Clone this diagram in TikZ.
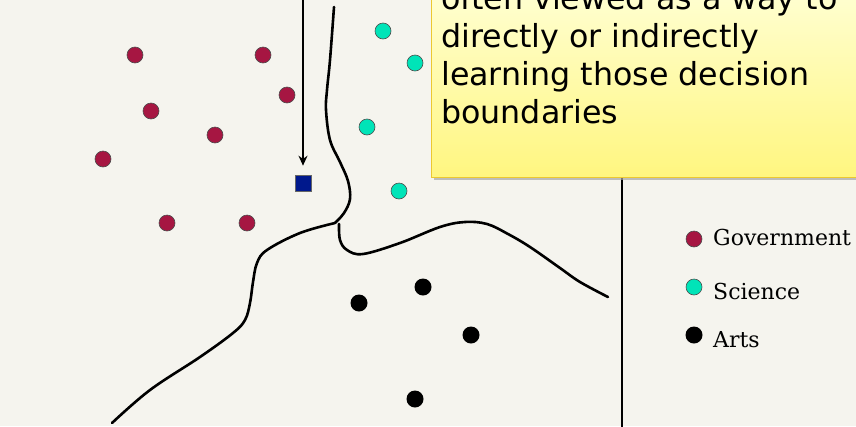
\documentclass[tikz,border=0pt]{standalone}
\usepackage{fontspec}
\setmainfont{DejaVu Serif}
\newfontfamily\notefont{DejaVu Sans}
\usetikzlibrary{arrows.meta}

\definecolor{bgpaper}{RGB}{245,244,238}
\definecolor{govred}{RGB}{166,22,66}
\definecolor{scicyan}{RGB}{0,228,184}
\definecolor{querynavy}{RGB}{0,24,140}
\definecolor{notetop}{RGB}{255,255,214}
\definecolor{notebot}{RGB}{255,246,128}
\definecolor{noteedge}{RGB}{236,200,48}

\tikzset{
  gov/.style={circle, draw=black!70, line width=0.6pt, fill=govred, minimum size=16pt, inner sep=0pt},
  sci/.style={gov, fill=scicyan},
  arts/.style={circle, fill=black, minimum size=17pt, inner sep=0pt},
  boundary/.style={line width=2.6pt, line cap=round, line join=round},
  legendtext/.style={anchor=base west, font=\fontsize{22}{26}\selectfont, inner sep=0pt},
  notetext/.style={anchor=base west, font=\notefont\fontsize{31.7}{38}\selectfont, inner sep=0pt},
}

\begin{document}
\begin{tikzpicture}[x=1pt,y=-1pt,>=stealth]
	% Khung hình
	\useasboundingbox (0,0) rectangle (856,426);
	\clip (0,0) rectangle (856,426);
	\fill[bgpaper] (0,0) rectangle (856,426);
	
	% Đường phân cách dọc
	\draw[line width=2pt] (622,150) -- (622,430);
	
	% Điểm Government
	\foreach \px/\py [count=\i] in {135/55, 263/55, 287/95, 151/111, 215/135, 103/159, 167/223, 247/223}
		\node[gov] (g\i) at (\px,\py) {};
	
	% Điểm Science
	\foreach \px/\py [count=\i] in {383/31, 415/63, 367/127, 399/191}
		\node[sci] (s\i) at (\px,\py) {};
	
	% Điểm Arts
	\foreach \px/\py [count=\i] in {359/303, 423/287, 471/335, 415/399}
		\node[arts] (a\i) at (\px,\py) {};
	
	% Ranh giới quyết định
	\draw[boundary] plot[smooth, tension=0.6] coordinates {(334,7) (330,60) (327,90) (326,110) (330,140) (340,162) (348,181) (350,199) (344,213) (335,223)};
	\draw[boundary] plot[smooth, tension=0.6] coordinates {(335,223) (300,233) (267,250) (257,263) (253,282) (250,303) (245,320) (233,333) (200,357) (150,390) (112,423)};
	\draw[boundary] plot[smooth, tension=0.6] coordinates {(339,224) (340,240) (347,250) (363,254) (400,243) (440,227) (465,222) (487,224) (508,234) (530,247) (560,268) (580,282) (608,297)};
	
	% Điểm cần phân lớp
	\node[draw=black!60, line width=0.6pt, fill=querynavy, minimum size=16pt, inner sep=0pt] (query) at (303,183) {};
	\coordinate (arrtop) at (303,-5);
	\draw[line width=1.5pt, -{Stealth[length=10pt,width=9pt]}, shorten >=9pt] (arrtop) -- (query);
	
	% Ghi chú màu vàng
	\fill[black!35, opacity=0.7] (434,-20) rectangle (880,180);
	\shade[top color=notetop, bottom color=notebot, draw=noteedge, line width=1pt] (431,-20) rectangle (877,177);
	\foreach \txt [count=\i] in {often viewed as a way to, directly or indirectly, learning those decision, boundaries}
		\node[notetext] (note\i) at (441,{9+38*(\i-1)}) {\txt};
	
	% Chú giải
	\node[gov] (keygov) at (694,239) {};
	\node[sci] (keysci) at (694,287) {};
	\node[arts] (keyarts) at (694,335) {};
	\node[legendtext] (labgov) at (713,245) {Government};
	\node[legendtext] (labsci) at (713,299) {Science};
	\node[legendtext] (labarts) at (713,347) {Arts};
\end{tikzpicture}
\end{document}
